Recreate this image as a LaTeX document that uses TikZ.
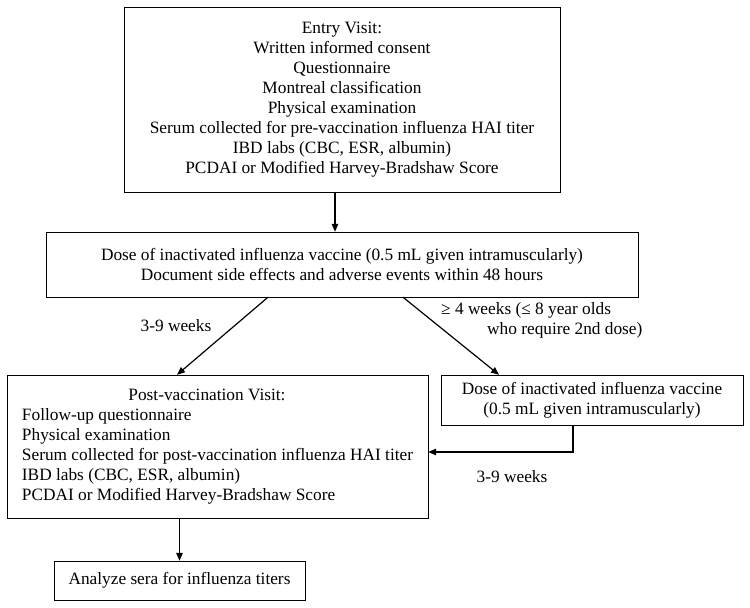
\documentclass[tikz,border=0pt]{standalone}
\usepackage{fontspec}
\setmainfont{Liberation Serif}
\usepackage{tikz}
\usetikzlibrary{arrows.meta, positioning}
\tikzset{
	line width = 1.2pt,
	>={Triangle[length=8pt, width=6.5pt]},
	font = \fontsize{17.3}{20}\selectfont,
	stepbox/.style={
		draw,
		rectangle,
		align=center,
		inner sep=0pt
	},
	link/.style={
		->,
		line width=1.2pt
	},
	tag/.style={
		inner sep=0pt
	}
}

\begin{document}
\begin{tikzpicture}[x=1pt, y=-1pt]
		\useasboundingbox (0,0) rectangle (750,608);

		\node[stepbox, minimum width=436pt, minimum height=185pt] at (342,99.5) (entry) {Entry Visit:\\
			Written informed consent\\
			Questionnaire\\
			Montreal classification\\
			Physical examination\\
			Serum collected for pre-vaccination influenza HAI titer\\
			IBD labs (CBC, ESR, albumin)\\
			PCDAI or Modified Harvey-Bradshaw Score};
		\node[stepbox, minimum width=592pt, minimum height=65pt] at (342,264.5) (dose) {Dose of inactivated influenza vaccine (0.5 mL given intramuscularly)\\
			Document side effects and adverse events within 48 hours};
		\node[stepbox, align=left, minimum width=421pt, minimum height=143pt] at (217.5,446.5) (post) {\makebox[370pt]{Post-vaccination Visit:}\\
			Follow-up questionnaire\\
			Physical examination\\
			Serum collected for post-vaccination influenza HAI titer\\
			IBD labs (CBC, ESR, albumin)\\
			PCDAI or Modified Harvey-Bradshaw Score};
		\node[stepbox, minimum width=302pt, minimum height=50pt] at (592,400) (dose2) {Dose of inactivated influenza vaccine\\
			(0.5 mL given intramuscularly)};
		\node[stepbox, minimum width=251pt, minimum height=39pt] at (179.5,580.5) (sera) {Analyze sera for influenza titers};

		\draw[link] ([xshift=-7pt]entry.south) -- ([xshift=-7pt]dose.north);
		\draw[link] ([xshift=-74pt]dose.south) -- ([xshift=-40.5pt]post.north);
		\draw[link] ([xshift=61pt]dose.south) -- ([xshift=-93pt]dose2.north);
		\draw[link] ([xshift=-19pt]dose2.south) |- ([yshift=-5.5pt]post.east);
		\draw[link] (post.south -| sera.north) -- (sera.north);

		\node[tag] at (176,326) (wk1) {3-9 weeks};
		\node[tag, align=left, anchor=north west] at (441,302) (wk2) {≥ 4 weeks (≤ 8 year olds\\
			\hspace*{46pt}who require 2nd dose)};
		\node[tag] at (512,477) (wk3) {3-9 weeks};
	\end{tikzpicture}
\end{document}
